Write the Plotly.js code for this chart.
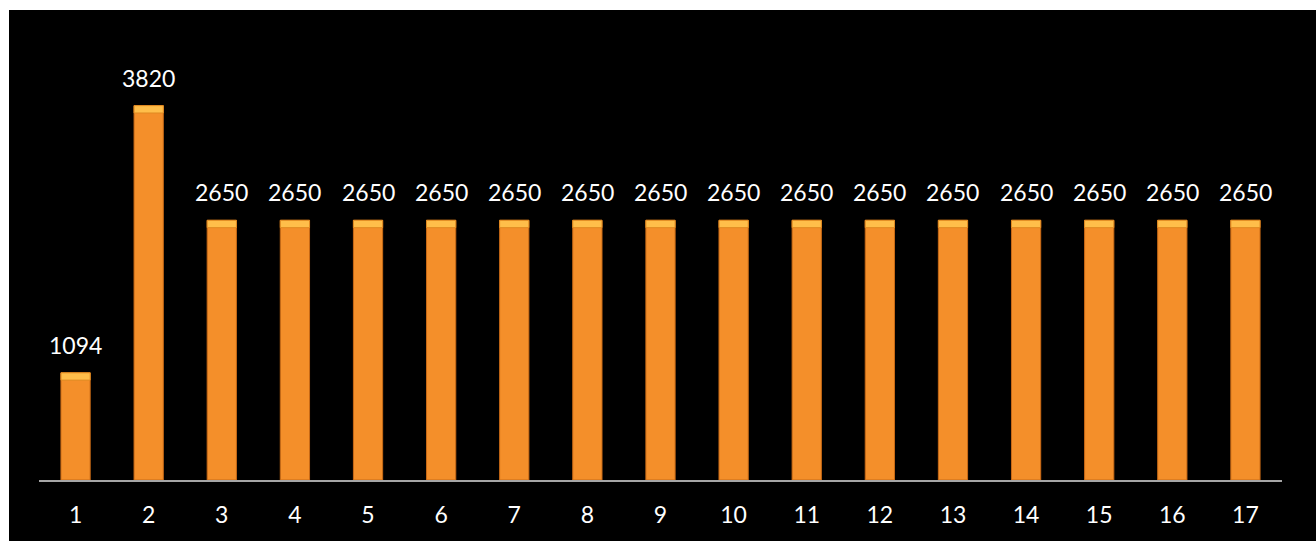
<!DOCTYPE html>
<html>
<head>
<meta charset="utf-8">
<script src="https://cdn.plot.ly/plotly-3.0.1.min.js"></script>
<style>
  html, body { margin: 0; padding: 0; background: #ffffff; }
  #chart { position: absolute; left: 9px; top: 10px; width: 1307px; height: 531px; }
</style>
</head>
<body>
<div id="chart"></div>
<script>
// Category labels and values
const categories = ['1','2','3','4','5','6','7','8','9','10','11','12','13','14','15','16','17'];
const values = [1094, 3820, 2650, 2650, 2650, 2650, 2650, 2650, 2650, 2650, 2650, 2650, 2650, 2650, 2650, 2650, 2650];

// Height (in data units) of the light bevel band at the top of each bar
const capHeight = 75;

const labelFont = { family: 'Lato, "Open Sans", sans-serif', size: 23, color: '#ffffff' };

const mainBars = {
  type: 'bar',
  x: categories,
  y: values,
  marker: { color: '#F48F2A', line: { color: '#C96A16', width: 1 } },
  hoverinfo: 'none'
};

const capBars = {
  type: 'bar',
  x: categories,
  y: values.map(() => capHeight),
  base: values.map(v => v - capHeight),
  marker: { color: '#FFBE4A', line: { color: '#E08A22', width: 1 } },
  hoverinfo: 'none'
};

// Value labels above each bar (x given as category index)
const annotations = categories.map((c, i) => ({
  x: i,
  y: values[i],
  xref: 'x',
  yref: 'y',
  text: String(values[i]),
  showarrow: false,
  yanchor: 'bottom',
  yshift: 12,
  font: labelFont
}));

const layout = {
  width: 1307,
  height: 531,
  paper_bgcolor: '#000000',
  plot_bgcolor: '#000000',
  margin: { l: 30, r: 34, t: 29, b: 61 },
  barmode: 'overlay',
  bargap: 0.6,
  showlegend: false,
  xaxis: {
    type: 'category',
    range: [-0.5, categories.length - 0.5],
    showgrid: false,
    zeroline: false,
    showline: true,
    linecolor: '#A6A6A6',
    linewidth: 2,
    ticks: '',
    ticklabelstandoff: 13,
    tickfont: labelFont
  },
  yaxis: {
    range: [0, 4500],
    showgrid: false,
    zeroline: false,
    showline: false,
    showticklabels: false,
    ticks: ''
  },
  annotations: annotations
};

Plotly.newPlot('chart', [mainBars, capBars], layout, { staticPlot: true, displayModeBar: false });
</script>
</body>
</html>
